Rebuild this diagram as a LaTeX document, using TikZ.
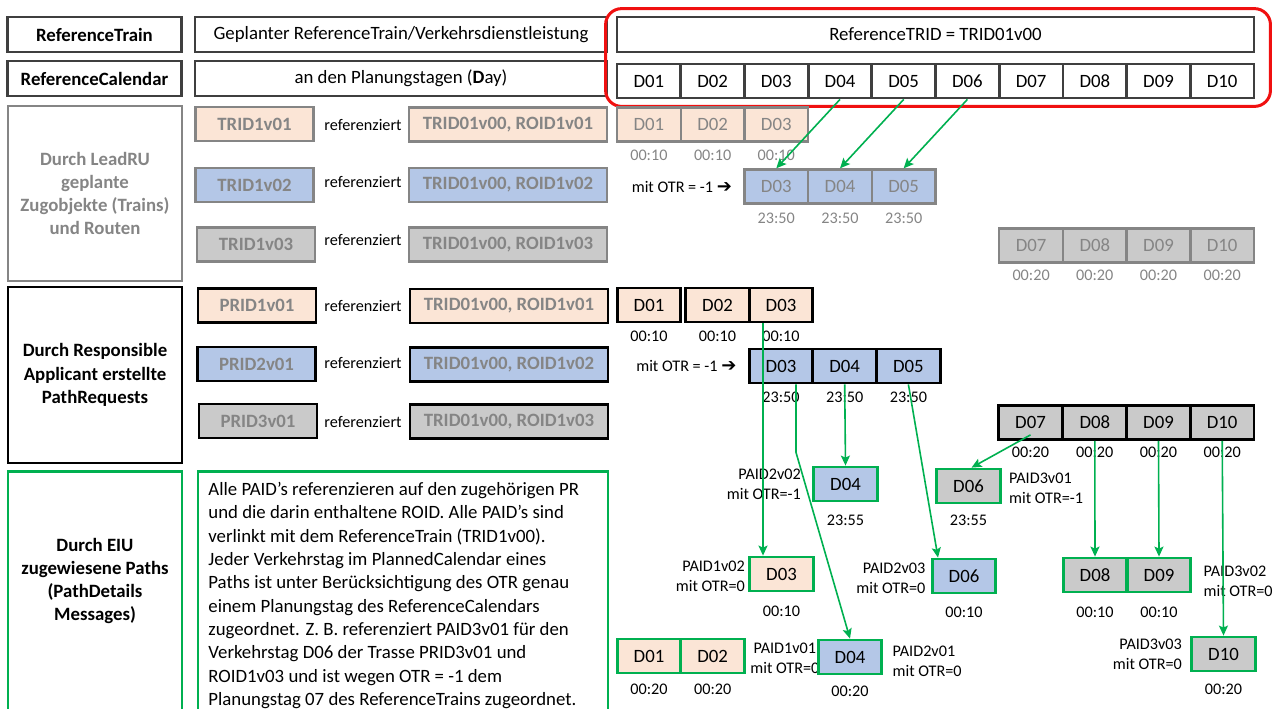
\documentclass[tikz,border=0pt]{standalone}
\usepackage{fontspec}
\setmainfont{Carlito}
\newfontfamily\arrowfont{DejaVu Sans}
\usetikzlibrary{positioning,arrows.meta}
\usepackage{xcolor}

\definecolor{peach}{HTML}{FBE5D6}
\definecolor{lightblue}{HTML}{B4C7E7}
\definecolor{lightgrey}{HTML}{CACACA}
\definecolor{midgrey}{HTML}{858585}
\definecolor{darkframe}{HTML}{3F3F3F}
\definecolor{pathgreen}{HTML}{00B050}
\definecolor{framered}{HTML}{F01010}

\newcommand{\basefont}{\fontsize{9.4}{11.6}\selectfont}
\newcommand{\smallfont}{\fontsize{8.1}{10}\selectfont}

\tikzset{
    box/.style={draw, inner sep=0pt, minimum height=17pt},
    refbox/.style={box, draw=darkframe, line width=1.4pt},
    trainbox/.style={box, draw=midgrey, line width=1.2pt, text=midgrey},
    prbox/.style={box, draw=black, line width=1.4pt},
    pabox/.style={box, draw=pathgreen, line width=1.4pt},
    daybox/.style={minimum width=31.85pt},
    idbox/.style={minimum width=59pt, font=\basefont\bfseries},
    routebox/.style={minimum width=99pt, font=\basefont\bfseries},
    groupbox/.style={minimum width=87pt, align=center, font=\basefont\bfseries},
    small/.style={font=\smallfont, inner sep=1.5pt},
    timelbl/.style={small},
    link/.style={draw=pathgreen, line width=0.8pt, -{Stealth[length=5pt,width=4.5pt,inset=1pt]}},
}

\begin{document}
\begin{tikzpicture}[x=0.5pt,y=-0.5pt, every node/.style={font=\basefont}]
    \useasboundingbox (0,0) rectangle (1280,708);

    % Draw reference train and calendar
    \node[refbox, groupbox, minimum height=17.5pt] (reftrain) at (94.5,34.5) {ReferenceTrain};
    \node[refbox, groupbox, minimum height=17.5pt] (refcal) at (94.5,78.5) {ReferenceCalendar};
    \node[refbox, minimum width=206pt, minimum height=17.5pt] (plantrain) at (401,34.5) {Geplanter ReferenceTrain/Verkehrsdienstleistung};
    \node[refbox, minimum width=206pt, minimum height=17.5pt] (plandays) at (401,78.5) {an den Planungstagen (\textbf{D}ay)};
    \node[refbox, minimum width=318.5pt, minimum height=17.5pt] (reftrid) at (935.5,34.5) {ReferenceTRID = TRID01v00};
    \foreach \i/\x in {01/648.9,02/712.6,03/776.3,04/840.0,05/903.7,06/967.4,07/1031.1,08/1094.8,09/1158.5,10/1222.2}
        \node[refbox, daybox] (cal\i) at (\x,81) {D\i};
    % Draw red frame round the reference
    \draw[framered, line width=1.5pt, rounded corners=8pt] ([xshift=-5pt,yshift=3.5pt]reftrid.north west) rectangle ([xshift=7.5pt,yshift=-3.5pt]cal10.south east);

    % Draw trains and routes of the LeadRU
    \node[trainbox, groupbox, minimum height=87.5pt] (leadru) at (95,193.5) {Durch LeadRU\\geplante\\Zugobjekte (Trains)\\und Routen};
    \node[trainbox, idbox, fill=peach] (trid1) at (254.5,124) {TRID1v01};
    \node[small] (refword1) at (363,125) {referenziert};
    \node[trainbox, routebox, fill=peach] (route1) at (508,124.5) {TRID01v00, ROID1v01};
    \foreach \i/\x in {01/648.9,02/712.6,03/776.3} {
        \node[trainbox, daybox, fill=peach] (trA\i) at (\x,124.5) {D\i};
        \node[timelbl, text=midgrey, below=2pt of trA\i] (trAt\i) {00:10};
    }
    \node[trainbox, idbox, fill=lightblue] (trid2) at (254.5,185) {TRID1v02};
    \node[small] (refword2) at (363,182) {referenziert};
    \node[trainbox, routebox, fill=lightblue] (route2) at (508,185) {TRID01v00, ROID1v02};
    \foreach \i/\x in {03/776.3,04/840.0,05/903.7} {
        \node[trainbox, daybox, fill=lightblue] (trB\i) at (\x,186.5) {D\i};
        \node[timelbl, text=midgrey, below=2.5pt of trB\i] (trBt\i) {23:50};
    }
    \node[small, left=4pt of trB03] (otrtrain) {mit OTR = -1 {\arrowfont\bfseries\fontsize{9}{10}\selectfont ➔}};
    \node[trainbox, idbox, fill=lightgrey] (trid3) at (256,244.5) {TRID1v03};
    \node[small] (refword3) at (363,240) {referenziert};
    \node[trainbox, routebox, fill=lightgrey] (route3) at (508,244.5) {TRID01v00, ROID1v03};
    \foreach \i/\x in {07/1031.1,08/1094.8,09/1158.5,10/1222.2} {
        \node[trainbox, daybox, fill=lightgrey] (trC\i) at (\x,245.5) {D\i};
        \node[timelbl, text=midgrey, below=1.5pt of trC\i] (trCt\i) {00:20};
    }
    % Draw links from calendar to shifted days
    \draw[link] (cal04.south) -- (trB03.north);
    \draw[link] (cal05.south) -- (trB04.north);
    \draw[link] (cal06.south) -- (trB05.north);

    % Draw path requests of the responsible applicant
    \node[prbox, groupbox, minimum height=88pt] (reqbox) at (95,375) {Durch Responsible\\Applicant erstellte\\PathRequests};
    \node[prbox, idbox, fill=peach, text=midgrey] (prid1) at (257,305.5) {PRID1v01};
    \node[small] (refword4) at (363,306) {referenziert};
    \node[prbox, routebox, fill=peach, text=midgrey] (proute1) at (509,306) {TRID01v00, ROID1v01};
    \foreach \i/\x in {01/649,02/717.5,03/781} {
        \node[prbox, daybox, fill=peach] (prA\i) at (\x,305) {D\i};
        \node[timelbl, below=2pt of prA\i] (prAt\i) {00:10};
    }
    \node[prbox, idbox, fill=lightblue, text=midgrey] (prid2) at (256.5,364) {PRID2v01};
    \node[small] (refword5) at (363,363) {referenziert};
    \node[prbox, routebox, fill=lightblue, text=midgrey] (proute2) at (509,364.5) {TRID01v00, ROID1v02};
    \foreach \i/\x in {03/781,04/844.7,05/908.4} {
        \node[prbox, daybox, fill=lightblue] (prB\i) at (\x,366) {D\i};
        \node[timelbl, below=2pt of prB\i] (prBt\i) {23:50};
    }
    \node[small, left=4pt of prB03] (otrreq) {mit OTR = -1 {\arrowfont\bfseries\fontsize{9}{10}\selectfont ➔}};
    \node[prbox, idbox, fill=lightgrey, text=midgrey] (prid3) at (258,421) {PRID3v01};
    \node[small] (refword6) at (363,422) {referenziert};
    \node[prbox, routebox, fill=lightgrey, text=midgrey] (proute3) at (509,421.5) {TRID01v00, ROID1v03};
    \foreach \i/\x in {07/1030.5,08/1094.8,09/1158.5,10/1222.2} {
        \node[prbox, daybox, fill=lightgrey] (prC\i) at (\x,422.5) {D\i};
        \node[timelbl, below=1.5pt of prC\i] (prCt\i) {00:20};
    }

    % Draw paths assigned by the EIU
    \node[pabox, minimum width=87pt, minimum height=135pt, anchor=north] (eiubox) at (95,470) {};
    \node[align=center, font=\basefont\bfseries] (eiulabel) at (95,581) {Durch EIU\\zugewiesene Paths\\(PathDetails\\Messages)};
    \node[pabox, minimum width=205pt, minimum height=135pt, anchor=north west] (notebox) at (196.5,470) {};
    \node[anchor=north west, inner sep=0pt, align=left, font=\fontsize{9.4}{11.65}\selectfont] (notetext) at (208,482) {%
        Alle PAID’s referenzieren auf den zugehörigen PR\\
        und die darin enthaltene ROID. Alle PAID’s sind\\
        verlinkt mit dem ReferenceTrain (TRID1v00).\\
        Jeder Verkehrstag im PlannedCalendar eines\\
        Paths ist unter Berücksichtigung des OTR genau\\
        einem Planungstag des ReferenceCalendars\\
        zugeordnet. Z. B. referenziert PAID3v01 für den\\
        Verkehrstag D06 der Trasse PRID3v01 und\\
        ROID1v03 und ist wegen OTR = -1 dem\\
        Planungstag 07 des ReferenceTrains zugeordnet.};

    \node[pabox, daybox, fill=lightblue] (paid22) at (845.5,484) {D04};
    \node[small, align=right, left=4pt of paid22] (lbl22) {PAID2v02\\mit OTR=-1};
    \node[timelbl, below=4.5pt of paid22] (time22) {23:55};
    \node[pabox, daybox, fill=lightgrey] (paid31) at (968.5,486) {D06};
    \node[small, align=left, right=2pt of paid31, yshift=-1pt] (lbl31) {PAID3v01\\mit OTR=-1};
    \node[timelbl, below=3.5pt of paid31] (time31) {23:55};
    \node[pabox, daybox, fill=peach] (paid12) at (781.5,574) {D03};
    \node[small, align=right, left=0pt of paid12, yshift=-1pt] (lbl12) {PAID1v02\\mit OTR=0};
    \node[timelbl, below=5pt of paid12] (time12) {00:10};
    \node[pabox, daybox, fill=lightblue] (paid23) at (964,576) {D06};
    \node[small, align=right, left=1pt of paid23, yshift=-1pt] (lbl23) {PAID2v03\\mit OTR=0};
    \node[timelbl, below=4.5pt of paid23] (time23) {00:10};
    \node[pabox, daybox, fill=lightgrey] (paid32a) at (1095,575) {D08};
    \node[pabox, daybox, fill=lightgrey] (paid32b) at (1159,575) {D09};
    \node[small, align=left, right=4pt of paid32b, yshift=-3pt] (lbl32) {PAID3v02\\mit OTR=0};
    \node[timelbl, below=5pt of paid32a] (time32a) {00:10};
    \node[timelbl, below=5pt of paid32b] (time32b) {00:10};
    \node[pabox, daybox, fill=peach] (paid11a) at (649,656) {D01};
    \node[pabox, daybox, fill=peach] (paid11b) at (712.7,656) {D02};
    \node[small, align=center, right=0.5pt of paid11b, yshift=-1pt] (lbl11) {PAID1v01\\mit OTR=0};
    \node[timelbl, below=3pt of paid11a] (time11a) {00:20};
    \node[timelbl, below=3pt of paid11b] (time11b) {00:20};
    \node[pabox, daybox, fill=lightblue] (paid21) at (850,657) {D04};
    \node[small, align=left, right=3pt of paid21, yshift=-2pt] (lbl21) {PAID2v01\\mit OTR=0};
    \node[timelbl, below=3.5pt of paid21] (time21) {00:20};
    \node[pabox, daybox, fill=lightgrey] (paid33) at (1223.5,654) {D10};
    \node[small, align=right, left=2.5pt of paid33] (lbl33) {PAID3v03\\mit OTR=0};
    \node[timelbl, below=4pt of paid33] (time33) {00:20};

    % Draw links from requested days to assigned paths
    \draw[link] ([xshift=-9pt]prA03.south) -- ([xshift=-9pt]prA03.south |- paid12.north);
    \draw[link] ([xshift=7.5pt]prB03.south) -- ([xshift=7.5pt,yshift=-34pt]prB03.south) -- (paid21.north);
    \draw[link] (prB04.south) -- (paid22.north);
    \draw[link] (prB05.south) -- ([xshift=-13pt]paid23.north);
    \draw[link] ([yshift=3pt]prC07.south) -- ([xshift=1.5pt]paid31.north);
    \draw[link] (prC08.south) -- (paid32a.north);
    \draw[link] (prC09.south) -- (paid32b.north);
    \draw[link] (prC10.south) -- (paid33.north);
\end{tikzpicture}
\end{document}
